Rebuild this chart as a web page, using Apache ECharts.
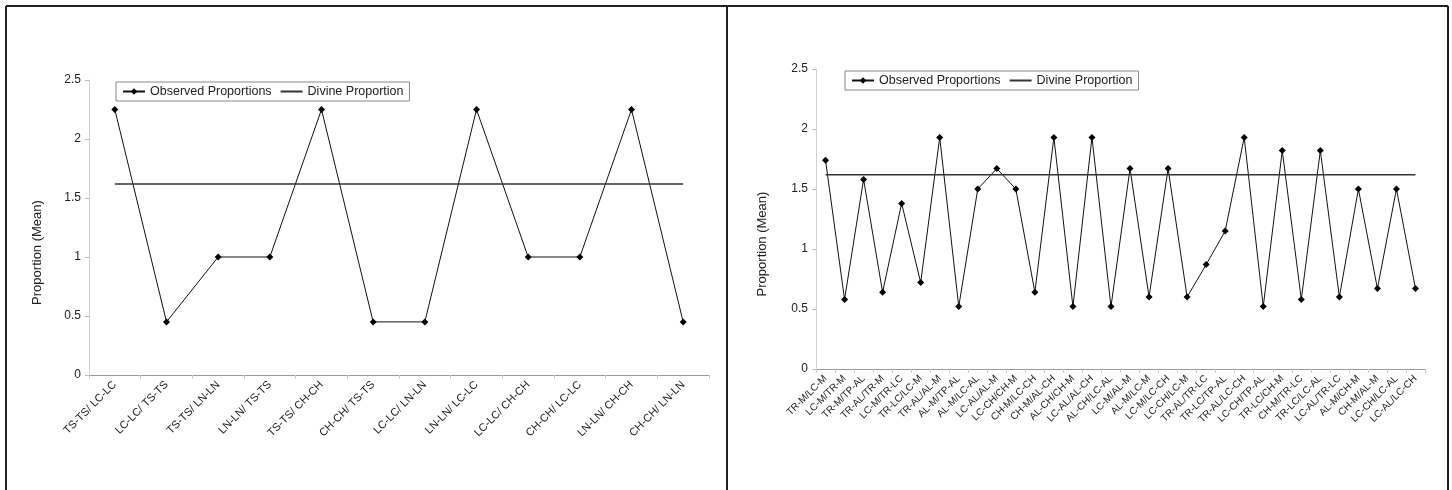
<!DOCTYPE html>
<html>
<head>
<meta charset="utf-8">
<script src="https://cdn.jsdelivr.net/npm/echarts@6/dist/echarts.min.js"></script>
<style>html,body{margin:0;padding:0;background:#fff}#c{width:1452px;height:490px}</style>
</head>
<body>
<div id="c"></div>
<script>
const leftCategories = ["TS-TS/ LC-LC","LC-LC/ TS-TS","TS-TS/ LN-LN","LN-LN/ TS-TS","TS-TS/ CH-CH","CH-CH/ TS-TS","LC-LC/ LN-LN","LN-LN/ LC-LC","LC-LC/ CH-CH","CH-CH/ LC-LC","LN-LN/ CH-CH","CH-CH/ LN-LN"];
const leftObserved = [2.25,0.45,1.0,1.0,2.25,0.45,0.45,2.25,1.0,1.0,2.25,0.45];
const rightCategories = ["TR-M/LC-M","LC-M/TR-M","TR-M/TP-AL","TR-AL/TR-M","LC-M/TR-LC","TR-LC/LC-M","TR-AL/AL-M","AL-M/TP-AL","AL-M/LC-AL","LC-AL/AL-M","LC-CH/CH-M","CH-M/LC-CH","CH-M/AL-CH","AL-CH/CH-M","LC-AL/AL-CH","AL-CH/LC-AL","LC-M/AL-M","AL-M/LC-M","LC-M/LC-CH","LC-CH/LC-M","TR-AL/TR-LC","TR-LC/TP-AL","TR-AL/LC-CH","LC-CH/TP-AL","TR-LC/CH-M","CH-M/TR-LC","TR-LC/LC-AL","LC-AL/TR-LC","AL-M/CH-M","CH-M/AL-M","LC-CH/LC-AL","LC-AL/LC-CH"];
const rightObserved = [1.74,0.58,1.58,0.64,1.38,0.72,1.93,0.52,1.5,1.67,1.5,0.64,1.93,0.52,1.93,0.52,1.67,0.6,1.67,0.6,0.87,1.15,1.93,0.52,1.82,0.58,1.82,0.6,1.5,0.67,1.5,0.67];
const divineProportion = 1.618;
const yTicks = [0, 0.5, 1, 1.5, 2, 2.5];

const FONT = '"Liberation Sans", Arial, sans-serif';
const chart = echarts.init(document.getElementById('c'));

function yAxis(gridIndex, gap) {
  return {
    type: 'value', gridIndex, min: yTicks[0], max: yTicks[yTicks.length - 1], interval: 0.5,
    name: 'Proportion (Mean)', nameLocation: 'middle', nameGap: gap,
    nameTextStyle: { fontFamily: FONT, fontSize: 13, color: '#222', padding: [0, 50, 0, 0] },
    axisLine: { show: true, lineStyle: { color: '#d0d0d0', width: 1 } },
    axisTick: { show: true, length: 4, lineStyle: { color: '#bbb' } },
    axisLabel: { fontFamily: FONT, fontSize: 12, color: '#222', margin: 8 },
    splitLine: { show: false }
  };
}
function xAxis(gridIndex, cats, fs) {
  return {
    type: 'category', gridIndex, data: cats, boundaryGap: true,
    axisLine: { lineStyle: { color: '#999', width: 1 } },
    axisTick: { show: true, length: 4, lineStyle: { color: '#ccc' } },
    axisLabel: { fontFamily: FONT, fontSize: fs, color: '#222', rotate: 45, interval: 0, margin: 8 },
    splitLine: { show: false }
  };
}
function observed(i, data) {
  return { name: 'Observed Proportions', type: 'line', xAxisIndex: i, yAxisIndex: i, data,
    symbol: 'diamond', symbolSize: 7, showSymbol: true,
    lineStyle: { color: '#111', width: 1 }, itemStyle: { color: '#000' }, animation: false };
}
function divine(i, n) {
  return { name: 'Divine Proportion', type: 'line', xAxisIndex: i, yAxisIndex: i,
    data: new Array(n).fill(divineProportion), symbol: 'none',
    lineStyle: { color: '#333', width: 1.5 }, itemStyle: { color: '#333' }, animation: false };
}
function legend(left, top) {
  return {
    left, top, orient: 'horizontal', itemGap: 8, itemWidth: 22, itemHeight: 8,
    padding: [3, 6, 3, 6], borderColor: '#888', borderWidth: 1, borderRadius: 0,
    textStyle: { fontFamily: FONT, fontSize: 12.5, color: '#222' },
    data: [{ name: 'Observed Proportions' }, { name: 'Divine Proportion', itemStyle: { opacity: 0 } }]
  };
}

chart.setOption({
  backgroundColor: '#fff',
  animation: false,
  grid: [
    { left: 89, right: 743, top: 80, bottom: 115 },
    { left: 816, right: 27, top: 69, bottom: 121 }
  ],
  xAxis: [xAxis(0, leftCategories, 11), xAxis(1, rightCategories, 10)],
  yAxis: [yAxis(0, 45), yAxis(1, 47)],
  legend: [legend(116, 82), legend(845, 71)],
  series: [
    observed(0, leftObserved), divine(0, leftCategories.length),
    observed(1, rightObserved), divine(1, rightCategories.length)
  ],
  graphic: [
    { type: 'line', shape: { x1: 6, y1: 6, x2: 1448, y2: 6 }, style: { stroke: '#222', lineWidth: 2 } },
    { type: 'line', shape: { x1: 6, y1: 6, x2: 6, y2: 490 }, style: { stroke: '#222', lineWidth: 2 } },
    { type: 'line', shape: { x1: 727, y1: 6, x2: 727, y2: 490 }, style: { stroke: '#222', lineWidth: 2 } },
    { type: 'line', shape: { x1: 1448, y1: 6, x2: 1448, y2: 490 }, style: { stroke: '#222', lineWidth: 2 } }
  ]
});
</script>
</body>
</html>
